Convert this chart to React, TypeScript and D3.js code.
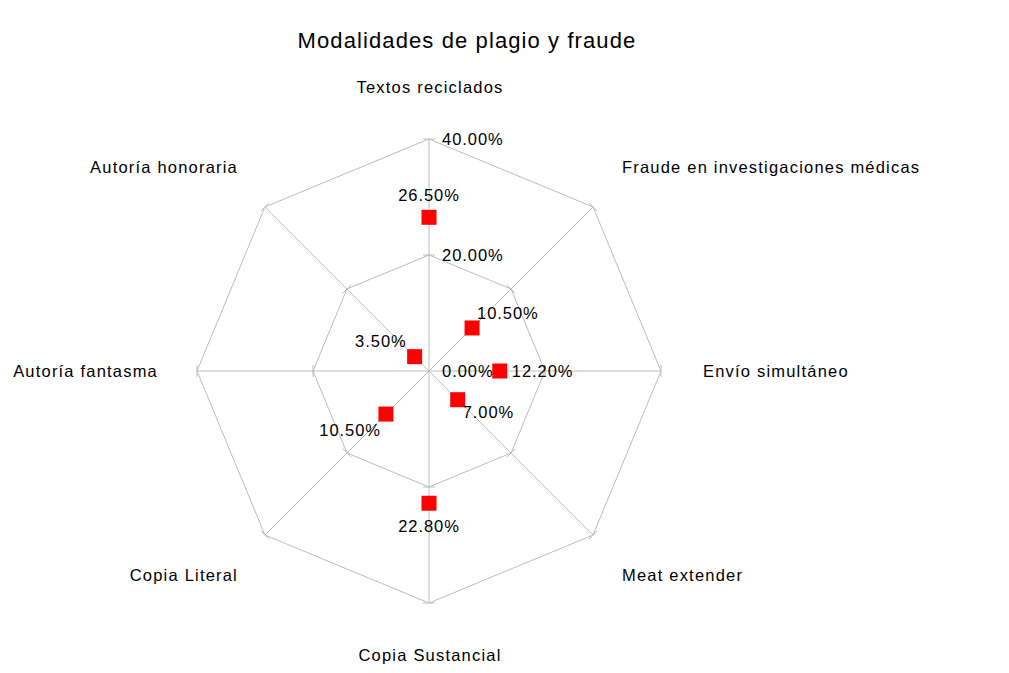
import React from "react";
import * as d3 from "d3";

const categories = [
  "Textos reciclados",
  "Fraude en investigaciones médicas",
  "Envío simultáneo",
  "Meat extender",
  "Copia Sustancial",
  "Copia Literal",
  "Autoría fantasma",
  "Autoría honoraria",
];
const values: (number | null)[] = [26.5, 10.5, 12.2, 7.0, 22.8, 10.5, null, 3.5];
const ticks = [0, 20, 40];
const tickLabels = ["0.00%", "20.00%", "40.00%"];

const W = 1009, H = 673;
const cx = 429, cy = 371, R = 232;
const font = "'Liberation Sans', Arial, sans-serif";
const FS = 16.5;
const LS = 1.2;

export default function App() {
  const r = d3.scaleLinear().domain([0, 40]).range([0, R]);
  const n = categories.length;
  const ang = (i: number) => (i * 2 * Math.PI) / n; // clockwise from top
  const pt = (i: number, v: number): [number, number] => [
    cx + r(v) * Math.sin(ang(i)),
    cy - r(v) * Math.cos(ang(i)),
  ];
  const grid = d3.line().curve(d3.curveLinearClosed);

  const catPos: [number, number, string][] = [
    [430, 87, "middle"],
    [622, 167, "start"],
    [703, 371, "start"],
    [622, 575, "start"],
    [430, 655, "middle"],
    [238, 575, "end"],
    [158, 371, "end"],
    [238, 167, "end"],
  ];
  const dlOff: [number, number, string][] = [
    [0, -22, "middle"],
    [5, -15, "start"],
    [12, 0, "start"],
    [5, 13, "start"],
    [0, 23, "middle"],
    [-5, 16, "end"],
    [-8, -15, "end"],
    [-8, -15, "end"],
  ];

  return (
    <svg width={W} height={H} style={{ position: "absolute", left: 0, top: 0, background: "#fff" }} fontFamily={font}>
      <text x={467} y={48} fontSize={22} textAnchor="middle" fill="#000" letterSpacing={1.1}>Modalidades de plagio y fraude</text>
      {ticks.slice(1).map((t) => (
        <path key={"g" + t} d={grid(categories.map((_, i) => pt(i, t))) || ""} fill="none" stroke="#bcbcbc" strokeWidth={1} />
      ))}
      {categories.map((_, i) => {
        const [x, y] = pt(i, 40);
        return <line key={"s" + i} x1={cx} y1={cy} x2={x} y2={y} stroke="#bcbcbc" strokeWidth={1} />;
      })}
      {categories.map((_, i) =>
        ticks.slice(1).map((t) => {
          const [x, y] = pt(i, t);
          const a = ang(i);
          const px = Math.cos(a) * 6, py = Math.sin(a) * 6;
          return <line key={"t" + i + t} x1={x - px} y1={y - py} x2={x + px} y2={y + py} stroke="#bcbcbc" strokeWidth={1} />;
        })
      )}
      {ticks.map((t, k) => (
        <text key={"tl" + t} x={cx + 13} y={cy - r(t)} dy="0.35em" fontSize={FS} letterSpacing={0.95} fill="#000">{tickLabels[k]}</text>
      ))}
      {categories.map((c, i) => (
        <text key={"c" + i} x={catPos[i][0]} y={catPos[i][1]} dy="0.35em" textAnchor={catPos[i][2] as any} fontSize={FS} letterSpacing={LS} fill="#000">{c}</text>
      ))}
      {values.map((v, i) => {
        if (v == null) return null;
        const [x, y] = pt(i, v);
        return <rect key={"m" + i} x={x - 7.5} y={y - 7.5} width={15} height={15} fill="#ff0000" />;
      })}
      {values.map((v, i) => {
        if (v == null) return null;
        const [x, y] = pt(i, v);
        return (
          <text key={"d" + i} x={x + dlOff[i][0]} y={y + dlOff[i][1]} dy="0.35em" textAnchor={dlOff[i][2] as any} fontSize={FS} letterSpacing={0.95} fill="#000">
            {v.toFixed(2) + "%"}
          </text>
        );
      })}
    </svg>
  );
}
